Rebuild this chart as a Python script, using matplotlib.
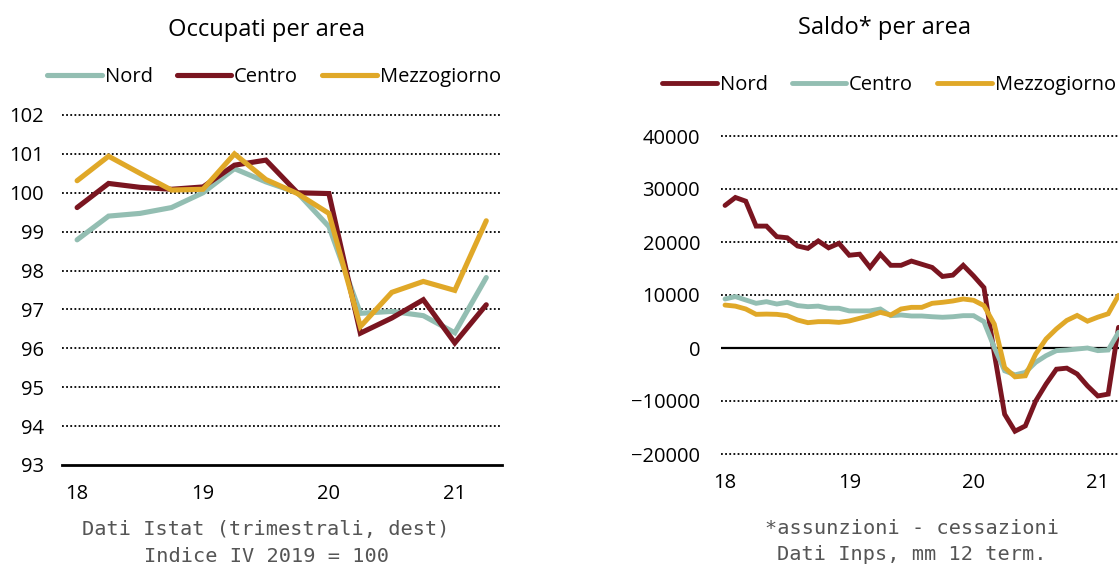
import matplotlib
matplotlib.use("Agg")
import matplotlib.pyplot as plt
import numpy as np

# colori
TEAL = "#93beb2"
DRED = "#7a1520"
GOLD = "#e0a828"

# --- dati: occupati (trimestrali, 18Q1 - 21Q2), indice IV 2019 = 100
occ_nord = [98.79, 99.40, 99.47, 99.62, 100.0, 100.62, 100.28, 100.0,
            99.13, 96.90, 96.95, 96.84, 96.40, 97.82]
occ_centro = [99.62, 100.24, 100.14, 100.09, 100.15, 100.71, 100.84, 100.0,
              99.98, 96.39, 96.78, 97.25, 96.14, 97.12]
occ_mezz = [100.31, 100.94, 100.50, 100.07, 100.09, 101.0, 100.34, 99.98,
            99.47, 96.56, 97.44, 97.72, 97.49, 99.28]
occ_ticks = [0, 4, 8, 12]
occ_ticklabels = ["18", "19", "20", "21"]
occ_yticks = [93, 94, 95, 96, 97, 98, 99, 100, 101, 102]

# --- dati: saldo assunzioni - cessazioni (mensili, gen 18 - mar 21)
saldo_nord = [26900, 28400, 27700, 23000, 23000, 21000, 20800, 19250, 18800,
              20200, 18900, 19750, 17500, 17700, 15200, 17700, 15600, 15600,
              16400, 15800, 15200, 13500, 13750, 15600, 13600, 11400, -1000,
              -12500, -15700, -14700, -10000, -6800, -4000, -3800, -4900,
              -7150, -9050, -8700, 3900]
saldo_centro = [9250, 9700, 9060, 8430, 8740, 8300, 8620, 8000, 7800, 7900,
                7500, 7500, 7000, 7000, 7000, 7360, 6100, 6230, 6040, 6040,
                5900, 5800, 5900, 6100, 6100, 4970, 100, -4300, -5060, -4600,
                -2700, -1450, -500, -380, -190, 0, -500, -380, 2970]
saldo_mezz = [8100, 7900, 7360, 6350, 6400, 6350, 6100, 5280, 4780, 4970,
              4970, 4840, 5100, 5600, 6100, 6730, 6230, 7360, 7670, 7670,
              8430, 8620, 8870, 9250, 9000, 8000, 4500, -3700, -5440, -5250,
              -1140, 1700, 3600, 5200, 6140, 5060, 5820, 6460, 9940]
saldo_ticks = [0, 12, 24, 36]
saldo_ticklabels = ["18", "19", "20", "21"]
saldo_yticks = [-20000, -10000, 0, 10000, 20000, 30000, 40000]

plt.rcParams["font.family"] = ["Open Sans", "DejaVu Sans"]

W, H = 1119, 566
fig = plt.figure(figsize=(W / 100, H / 100), dpi=100)


def px_axes(x0, y0, x1, y1):
    # pixel box (top-left origin) -> figure coords
    return fig.add_axes([x0 / W, 1 - y1 / H, (x1 - x0) / W, (y1 - y0) / H])


def dotted_grid(ax, yticks, solid=None):
    for yv in yticks:
        if yv == solid:
            continue
        ax.axhline(yv, color="black", lw=1.3, ls=(0, (1, 1.3)), zorder=1,
                   clip_on=False)
    for s in ax.spines.values():
        s.set_visible(False)
    ax.tick_params(length=0, labelsize=14.5)


# ---------------- pannello sinistro
ax1 = px_axes(62, 115, 502, 465)
x1 = np.arange(len(occ_nord))
l_n, = ax1.plot(x1, occ_nord, color=TEAL, lw=3.7, solid_capstyle="round",
                solid_joinstyle="miter", label="Nord", zorder=3)
l_c, = ax1.plot(x1, occ_centro, color=DRED, lw=3.7, solid_capstyle="round",
                solid_joinstyle="miter", label="Centro", zorder=3)
l_m, = ax1.plot(x1, occ_mezz, color=GOLD, lw=3.7, solid_capstyle="round",
                solid_joinstyle="miter", label="Mezzogiorno", zorder=4)
ax1.set_xlim(-0.48, 13.5)
ax1.set_ylim(93, 102)
dotted_grid(ax1, occ_yticks, solid=93)
ax1.axhline(93, color="black", lw=2, zorder=2, clip_on=False)
ax1.set_yticks(occ_yticks)
ax1.set_xticks(occ_ticks)
ax1.set_xticklabels(occ_ticklabels)
ax1.tick_params(axis="y", pad=13)
ax1.tick_params(axis="x", pad=14)

fig.text(266 / W, 1 - 30 / H, "Occupati per area", fontsize=17,
         ha="center", va="center")
fig.legend(handles=[l_n, l_c, l_m], loc="center", ncol=3,
           bbox_to_anchor=(274 / W, 1 - 77 / H), frameon=False, fontsize=14.5,
           handlelength=2.7, handletextpad=0.15, columnspacing=1.2,
           borderaxespad=0, borderpad=0)

fig.text(266 / W, 1 - 530 / H, "Dati Istat (trimestrali, dest)",
         family="DejaVu Sans Mono", fontsize=14.6, color="#555555",
         ha="center", va="center")
fig.text(266 / W, 1 - 556 / H, "Indice IV 2019 = 100",
         family="DejaVu Sans Mono", fontsize=14.6, color="#555555",
         ha="center", va="center")

# ---------------- pannello destro (tagliato a destra come l'originale)
ax2 = px_axes(721, 136, 1161, 454)
x2 = np.arange(len(saldo_nord))
r_n, = ax2.plot(x2, saldo_nord, color=DRED, lw=3.5, solid_capstyle="round",
                solid_joinstyle="miter", label="Nord", zorder=3)
r_c, = ax2.plot(x2, saldo_centro, color=TEAL, lw=3.5, solid_capstyle="round",
                solid_joinstyle="miter", label="Centro", zorder=3)
r_m, = ax2.plot(x2, saldo_mezz, color=GOLD, lw=3.5, solid_capstyle="round",
                solid_joinstyle="miter", label="Mezzogiorno", zorder=4)
ax2.set_xlim(-0.39, 42.1)
ax2.set_ylim(-20000, 40000)
dotted_grid(ax2, saldo_yticks, solid=0)
ax2.axhline(0, color="black", lw=1.6, zorder=2)
ax2.set_yticks(saldo_yticks)
ax2.set_xticks(saldo_ticks)
ax2.set_xticklabels(saldo_ticklabels)
ax2.tick_params(axis="y", pad=15)
ax2.tick_params(axis="x", pad=14)

fig.text(885 / W, 1 - 28 / H, "Saldo* per area", fontsize=17,
         ha="center", va="center")
fig.legend(handles=[r_n, r_c, r_m], loc="center", ncol=3,
           bbox_to_anchor=(889 / W, 1 - 85 / H), frameon=False, fontsize=14.5,
           handlelength=2.7, handletextpad=0.15, columnspacing=1.2,
           borderaxespad=0, borderpad=0)

fig.text(912 / W, 1 - 528 / H, "*assunzioni - cessazioni",
         family="DejaVu Sans Mono", fontsize=14.6, color="#555555",
         ha="center", va="center")
fig.text(912 / W, 1 - 555 / H, "Dati Inps, mm 12 term.",
         family="DejaVu Sans Mono", fontsize=14.6, color="#555555",
         ha="center", va="center")

fig.savefig("out.png", dpi=100)
